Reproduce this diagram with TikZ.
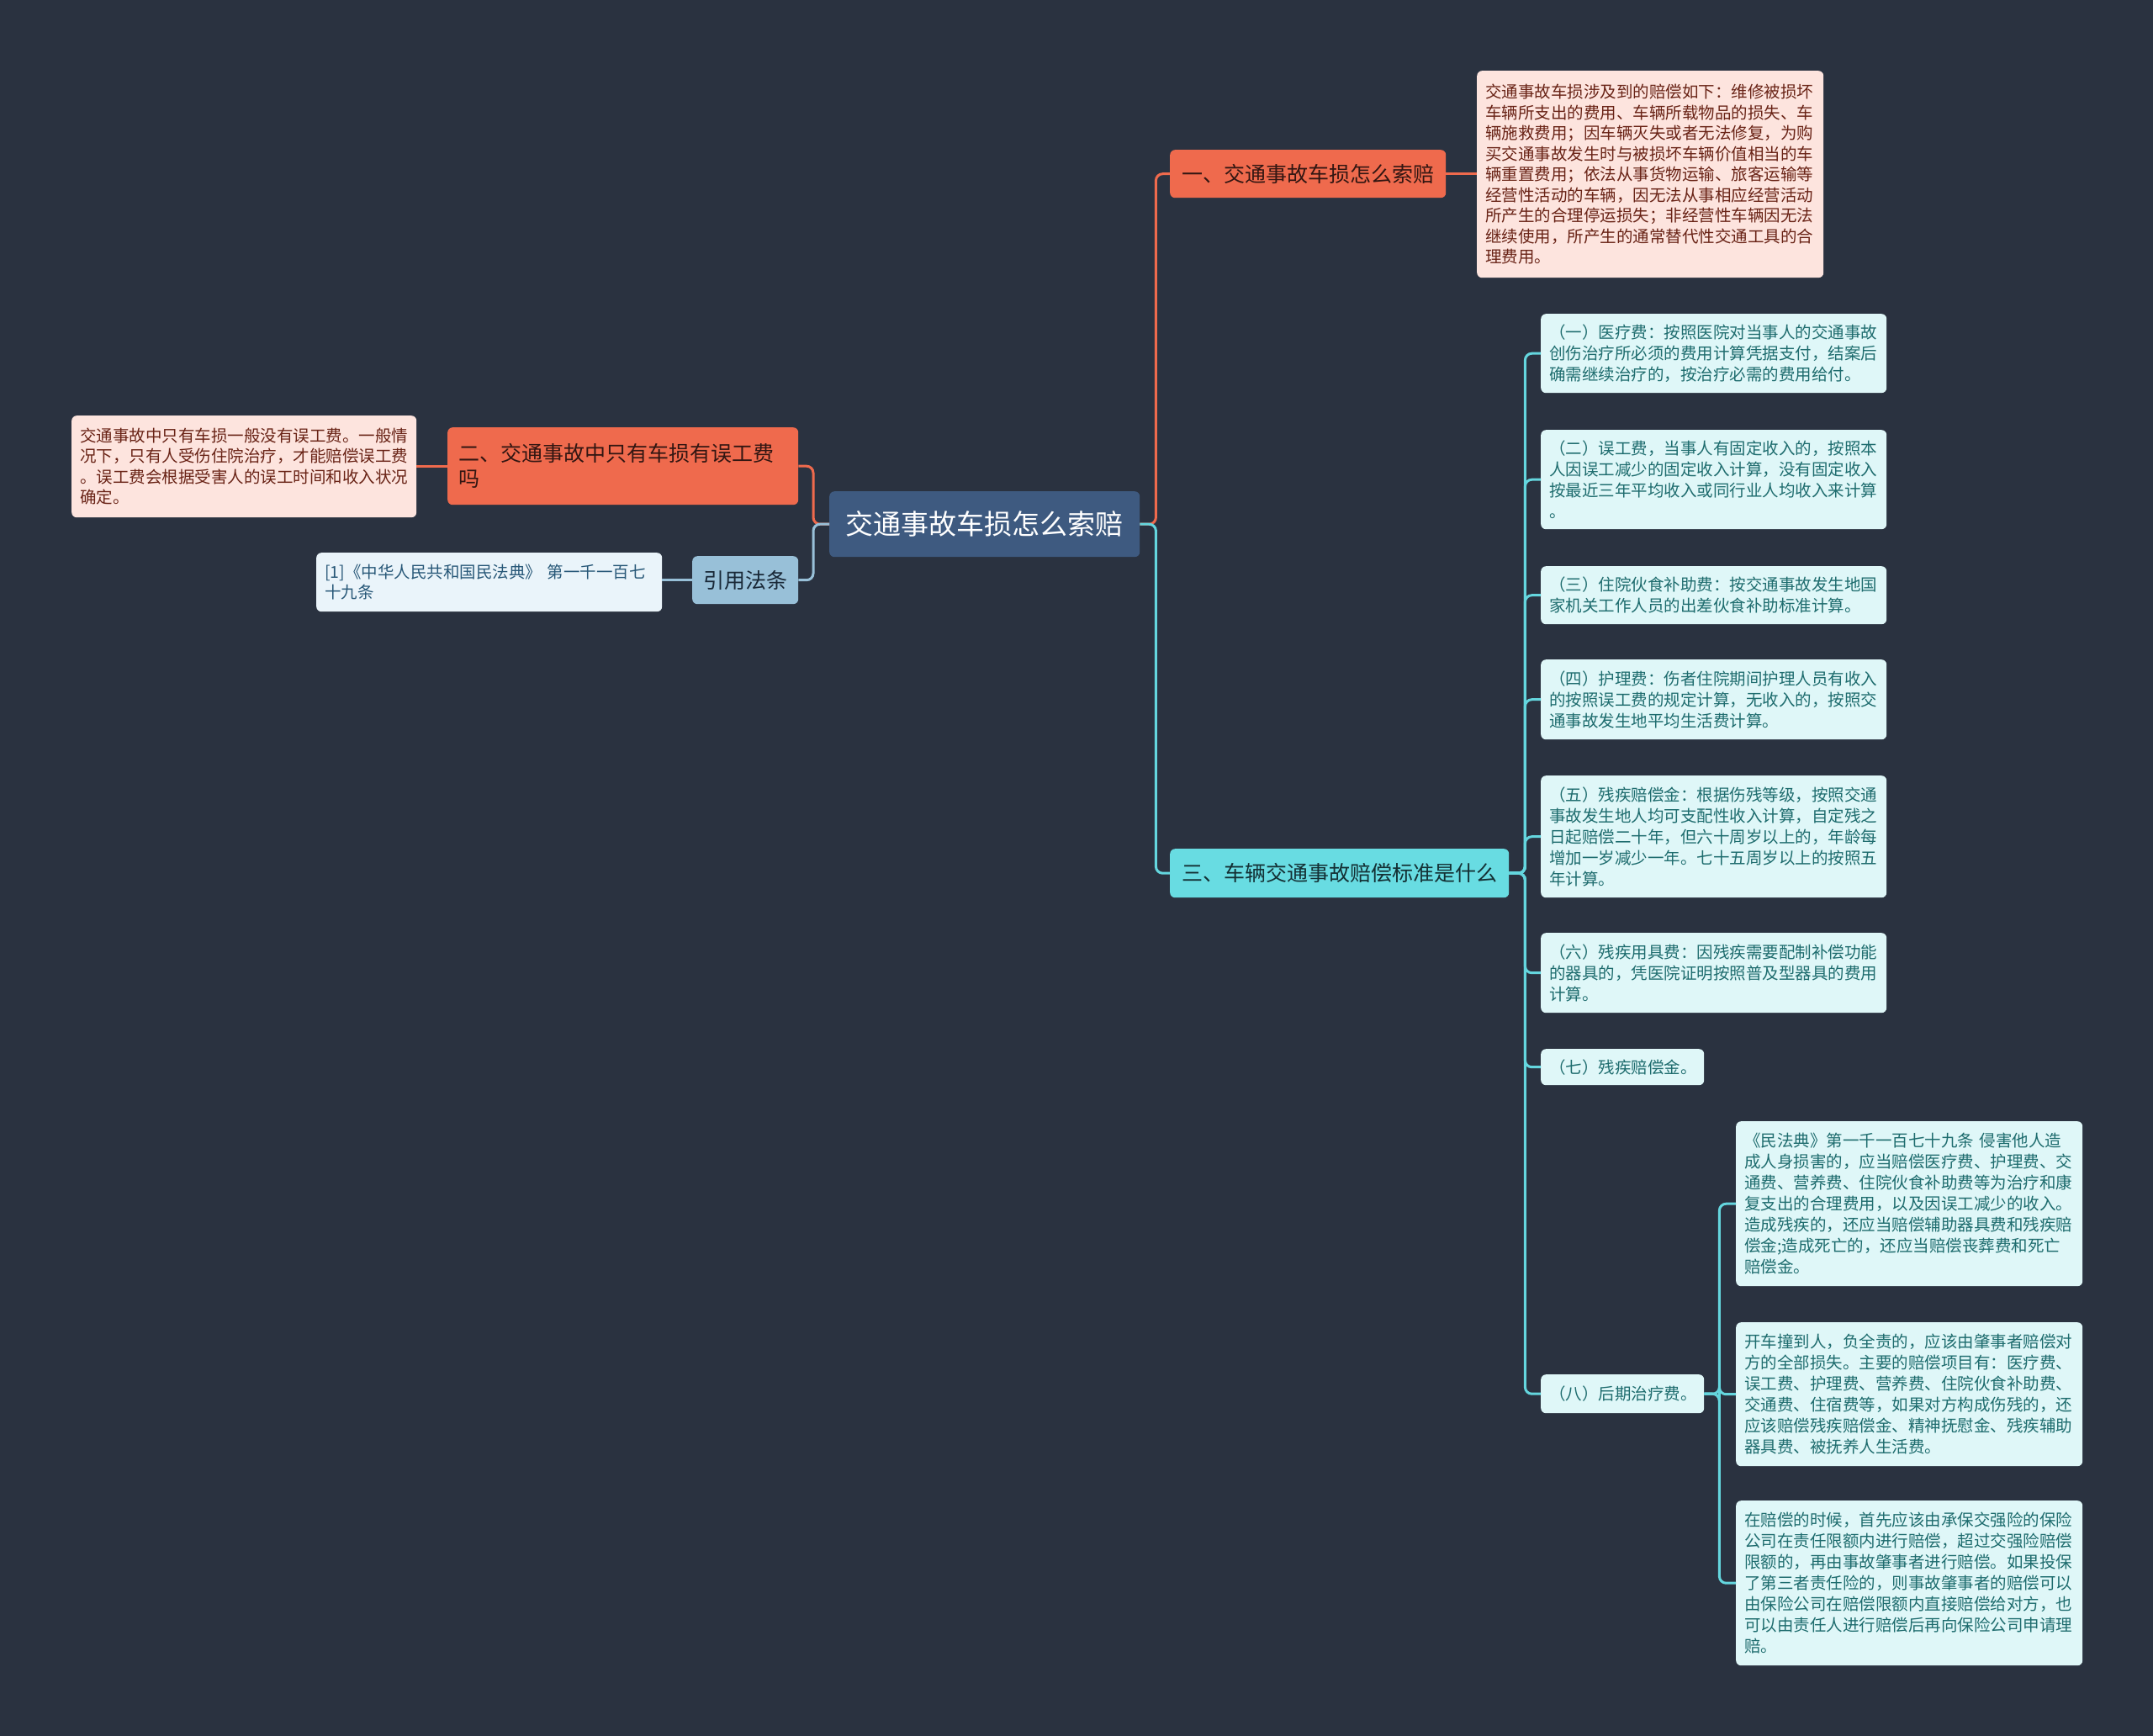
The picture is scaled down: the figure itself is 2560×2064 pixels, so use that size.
\documentclass[tikz,border=0pt]{standalone}
\usepackage{fontspec}
\setmainfont{Noto Sans CJK SC}
\definecolor{bg}{RGB}{42,50,64}
\definecolor{rootfill}{RGB}{62,90,128}
\definecolor{coral}{RGB}{239,106,77}
\definecolor{pinkleaf}{RGB}{253,228,222}
\definecolor{pinktext}{RGB}{105,35,22}
\definecolor{coraltext}{RGB}{50,22,18}
\definecolor{steel}{RGB}{152,192,216}
\definecolor{steeltext}{RGB}{25,40,55}
\definecolor{refleaf}{RGB}{234,244,250}
\definecolor{reftext}{RGB}{40,88,120}
\definecolor{cyanfill}{RGB}{104,220,226}
\definecolor{cyantext}{RGB}{20,48,52}
\definecolor{cyanleaf}{RGB}{223,247,248}
\definecolor{tealtext}{RGB}{30,108,110}
\definecolor{cyanline}{RGB}{100,214,222}
\begin{document}
\begin{tikzpicture}[x=1pt,y=-1pt,
  box/.style={rounded corners=6pt, anchor=north west, inner ysep=4pt},
  rootbox/.style={box, fill=rootfill, text=white, font=\fontsize{33pt}{38pt}\selectfont, align=center, inner xsep=0pt},
  coralbox/.style={box, fill=coral, text=coraltext, font=\fontsize{25pt}{30pt}\selectfont},
  pinkbox/.style={box, fill=pinkleaf, text=pinktext, font=\fontsize{19.5pt}{24.5pt}\selectfont, align=left, inner xsep=10pt},
  steelbox/.style={box, fill=steel, text=steeltext, font=\fontsize{25pt}{30pt}\selectfont, align=center, inner xsep=0pt},
  refbox/.style={box, fill=refleaf, text=reftext, font=\fontsize{19.5pt}{23.5pt}\selectfont, align=left, inner xsep=10pt},
  cyanbox/.style={box, fill=cyanfill, text=cyantext, font=\fontsize{25pt}{30pt}\selectfont, align=center, inner xsep=0pt},
  tealbox/.style={box, fill=cyanleaf, text=tealtext, font=\fontsize{19.5pt}{25pt}\selectfont, align=left, inner xsep=10pt},
  link/.style={line width=3pt, rounded corners=8pt},
]
\fill[bg] (0,0) rectangle (2560,2064);
\useasboundingbox (0,0) rectangle (2560,2064);

% root
\node[rootbox, minimum width=369pt, minimum height=78pt] (root) at (986,584) {交通事故车损怎么索赔};

% branch 1
\node[coralbox, align=center, inner xsep=0pt, minimum width=328pt, minimum height=57pt] (b1) at (1391,178) {一、交通事故车损怎么索赔};
\node[pinkbox, text width=392pt, minimum height=246pt] (l1) at (1756,84) {交通事故车损涉及到的赔偿如下：维修被损坏\\车辆所支出的费用、车辆所载物品的损失、车\\辆施救费用；因车辆灭失或者无法修复，为购\\买交通事故发生时与被损坏车辆价值相当的车\\辆重置费用；依法从事货物运输、旅客运输等\\经营性活动的车辆，因无法从事相应经营活动\\所产生的合理停运损失；非经营性车辆因无法\\继续使用，所产生的通常替代性交通工具的合\\理费用。};

% branch 2
\node[coralbox, align=left, inner xsep=13pt, text width=391pt, minimum height=92pt] (b2) at (532,508) {二、交通事故中只有车损有误工费\\吗};
\node[pinkbox, text width=390pt, minimum height=121pt] (l2) at (85,494) {交通事故中只有车损一般没有误工费。一般情\\况下，只有人受伤住院治疗，才能赔偿误工费\\。误工费会根据受害人的误工时间和收入状况\\确定。};

% citation
\node[steelbox, minimum width=126pt, minimum height=57pt] (ref) at (823,661) {引用法条};
\node[refbox, text width=391pt, minimum height=70pt] (rl) at (376,657) {[1]《中华人民共和国民法典》 第一千一百七\\十九条};

% branch 3
\node[cyanbox, minimum width=403pt, minimum height=58pt] (b3) at (1391,1009) {三、车辆交通事故赔偿标准是什么};
\node[tealbox, text width=391pt, minimum height=94pt] (c1) at (1832,373) {（一）医疗费：按照医院对当事人的交通事故\\创伤治疗所必须的费用计算凭据支付，结案后\\确需继续治疗的，按治疗必需的费用给付。};
\node[tealbox, text width=391pt, minimum height=118pt] (c2) at (1832,511) {（二）误工费，当事人有固定收入的，按照本\\人因误工减少的固定收入计算，没有固定收入\\按最近三年平均收入或同行业人均收入来计算\\。};
\node[tealbox, text width=391pt, minimum height=69pt] (c3) at (1832,673) {（三）住院伙食补助费：按交通事故发生地国\\家机关工作人员的出差伙食补助标准计算。};
\node[tealbox, text width=391pt, minimum height=95pt] (c4) at (1832,784) {（四）护理费：伤者住院期间护理人员有收入\\的按照误工费的规定计算，无收入的，按照交\\通事故发生地平均生活费计算。};
\node[tealbox, text width=391pt, minimum height=145pt] (c5) at (1832,922) {（五）残疾赔偿金：根据伤残等级，按照交通\\事故发生地人均可支配性收入计算，自定残之\\日起赔偿二十年，但六十周岁以上的，年龄每\\增加一岁减少一年。七十五周岁以上的按照五\\年计算。};
\node[tealbox, text width=391pt, minimum height=95pt] (c6) at (1832,1109) {（六）残疾用具费：因残疾需要配制补偿功能\\的器具的，凭医院证明按照普及型器具的费用\\计算。};
\node[tealbox, text width=174pt, minimum height=43pt] (c7) at (1832,1247) {（七）残疾赔偿金。};
\node[tealbox, text width=174pt, minimum height=46pt] (c8) at (1832,1634) {（八）后期治疗费。};
\node[tealbox, text width=392pt, minimum height=196pt] (d1) at (2064,1333) {《民法典》第一千一百七十九条 侵害他人造\\成人身损害的，应当赔偿医疗费、护理费、交\\通费、营养费、住院伙食补助费等为治疗和康\\复支出的合理费用，以及因误工减少的收入。\\造成残疾的，还应当赔偿辅助器具费和残疾赔\\偿金;造成死亡的，还应当赔偿丧葬费和死亡\\赔偿金。};
\node[tealbox, text width=392pt, minimum height=171pt] (d2) at (2064,1572) {开车撞到人，负全责的，应该由肇事者赔偿对\\方的全部损失。主要的赔偿项目有：医疗费、\\误工费、护理费、营养费、住院伙食补助费、\\交通费、住宿费等，如果对方构成伤残的，还\\应该赔偿残疾赔偿金、精神抚慰金、残疾辅助\\器具费、被抚养人生活费。};
\node[tealbox, text width=392pt, minimum height=196pt] (d3) at (2064,1784) {在赔偿的时候，首先应该由承保交强险的保险\\公司在责任限额内进行赔偿，超过交强险赔偿\\限额的，再由事故肇事者进行赔偿。如果投保\\了第三者责任险的，则事故肇事者的赔偿可以\\由保险公司在赔偿限额内直接赔偿给对方，也\\可以由责任人进行赔偿后再向保险公司申请理\\赔。};

% connectors
\draw[link, coral] (root.east) -- ++(19,0) |- (b1.west);
\draw[link, cyanline] (root.east) -- ++(19,0) |- (b3.west);
\draw[link, coral] (root.west) -- ++(-19,0) |- (b2.east);
\draw[link, steel] (root.west) -- ++(-19,0) |- (ref.east);
\draw[link, coral] (b1.east) -- (l1.west |- b1.east);
\draw[link, coral] (b2.west) -- (l2.east |- b2.west);
\draw[link, steel] (ref.west) -- (rl.east |- ref.west);
\foreach \c in {c1,c2,c3,c4,c5,c6,c7,c8}
  \draw[link, cyanline] (b3.east) -- ++(19,0) |- (\c.west);
\foreach \d in {d1,d2,d3}
  \draw[link, cyanline] (c8.east) -- ++(18,0) |- (\d.west);
\end{tikzpicture}
\end{document}
